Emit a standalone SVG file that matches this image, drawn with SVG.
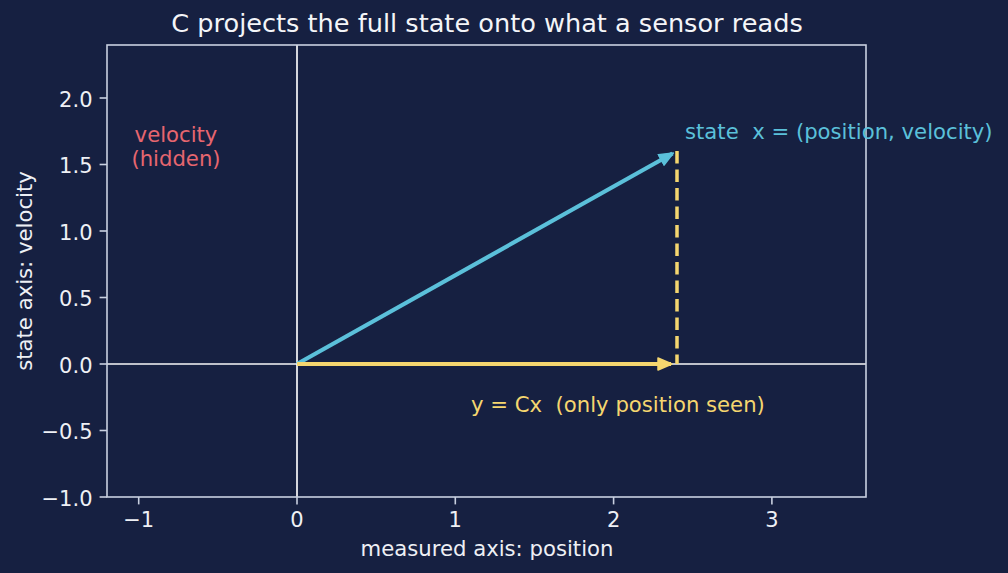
<svg xmlns="http://www.w3.org/2000/svg" width="1008" height="573" viewBox="0 0 1008 573">
<defs>
<style>
text{font-family:"DejaVu Sans","Liberation Sans",sans-serif;white-space:pre;}
.tk{font-size:21px;fill:#eef0f5;}
.lab{font-size:21.2px;fill:#eef0f5;}
.spine{stroke:#c9d0e0;stroke-width:1.6;fill:none;}
.tick{stroke:#c9d0e0;stroke-width:1.6;}
.zero{stroke:#f7f7f9;stroke-width:1.7;}
</style>
<marker id="hb" viewBox="-1 -1 16 14" refX="13" refY="6" markerWidth="16" markerHeight="14" markerUnits="userSpaceOnUse" orient="auto">
<path d="M0,0 L14,6 L0,12 Z" fill="#5bc0da" stroke="#5bc0da" stroke-width="1.5" stroke-linejoin="round"/>
</marker>
<marker id="hy" viewBox="-1 -1 16 14" refX="13" refY="6" markerWidth="16" markerHeight="14" markerUnits="userSpaceOnUse" orient="auto">
<path d="M0,0 L14,6 L0,12 Z" fill="#f5d66f" stroke="#f5d66f" stroke-width="1.5" stroke-linejoin="round"/>
</marker>
</defs>
<rect width="1008" height="573" fill="#162041"/>
<text x="487" y="32" text-anchor="middle" style="font-size:25.6px;fill:#f4f5f8">C projects the full state onto what a sensor reads</text>
<g id="axes">
<line class="zero" x1="107" y1="364" x2="866" y2="364"/>
<line class="zero" x1="297" y1="45" x2="297" y2="497"/>
<rect class="spine" x="107" y="45" width="759" height="452"/>
<g class="tick">
<line x1="138.7" y1="497" x2="138.7" y2="504.4"/>
<line x1="297" y1="497" x2="297" y2="504.4"/>
<line x1="455.3" y1="497" x2="455.3" y2="504.4"/>
<line x1="613.6" y1="497" x2="613.6" y2="504.4"/>
<line x1="771.9" y1="497" x2="771.9" y2="504.4"/>
<line x1="99.6" y1="497" x2="107" y2="497"/>
<line x1="99.6" y1="430.5" x2="107" y2="430.5"/>
<line x1="99.6" y1="364" x2="107" y2="364"/>
<line x1="99.6" y1="297.5" x2="107" y2="297.5"/>
<line x1="99.6" y1="231" x2="107" y2="231"/>
<line x1="99.6" y1="164.5" x2="107" y2="164.5"/>
<line x1="99.6" y1="98" x2="107" y2="98"/>
</g>
<g class="tk" text-anchor="middle">
<text x="138.7" y="527">−1</text>
<text x="297" y="527">0</text>
<text x="455.3" y="527">1</text>
<text x="613.6" y="527">2</text>
<text x="771.9" y="527">3</text>
</g>
<g class="tk" text-anchor="end">
<text x="92.5" y="505.5">−1.0</text>
<text x="92.5" y="439">−0.5</text>
<text x="92.5" y="372.5">0.0</text>
<text x="92.5" y="306">0.5</text>
<text x="92.5" y="239.5">1.0</text>
<text x="92.5" y="173">1.5</text>
<text x="92.5" y="106.5">2.0</text>
</g>
<text class="lab" x="487" y="556" text-anchor="middle">measured axis: position</text>
<text class="lab" x="0" y="0" text-anchor="middle" transform="translate(31.5,271) rotate(-90)">state axis: velocity</text>
</g>
<g id="connectors">
<line x1="297" y1="364" x2="672.5" y2="153.5" stroke="#5bc0da" stroke-width="4.2" marker-end="url(#hb)"/>
<line x1="297" y1="364" x2="671" y2="364" stroke="#f5d66f" stroke-width="4.2" marker-end="url(#hy)"/>
<line x1="677" y1="151" x2="677" y2="364" stroke="#f5d66f" stroke-width="3.5" stroke-dasharray="12.5 6"/>
</g>
<g id="state-label">
<text x="685" y="139" style="font-size:21.2px;fill:#5bc0da">state  x = (position, velocity)</text>
</g>
<g id="measurement-label">
<text x="471" y="412" style="font-size:21.2px;fill:#f5d66f">y = Cx  (only position seen)</text>
</g>
<g id="hidden-label" style="font-size:21.2px;fill:#e6666f" text-anchor="middle">
<text x="176" y="141.5">velocity</text>
<text x="176" y="165.5">(hidden)</text>
</g>
</svg>
